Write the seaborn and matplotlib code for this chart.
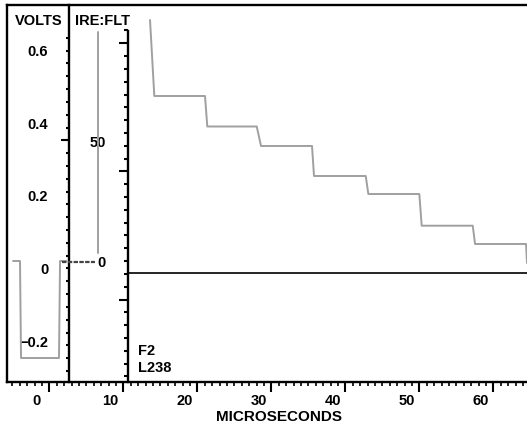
import numpy as np
import matplotlib
matplotlib.use('Agg')
import matplotlib.pyplot as plt
import matplotlib.ticker as mticker
import matplotlib.transforms as mtransforms
import seaborn as sns

# Eje de tiempo (microsegundos)
time_ticks = [0, 10, 20, 30, 40, 50, 60]
time_labels = ['0', '10', '20', '30', '40', '50', '60']

# Escalas verticales
volt_ticks = [-0.2, 0, 0.2, 0.4, 0.6]
volt_labels = ['\u22120.2', '0', '0.2', '0.4', '0.6']
ire_ticks = [0, 50]
ire_labels = ['0', '50']

# Traza: pulso de sincronismo
sync_t = [-4.9, -3.96, -3.82, 1.31, 1.45, 2.3]
sync_v = [0.0207, 0.0207, -0.2466, -0.2466, 0.0207, 0.0207]

# Traza: nivel de borrado (oscuro) y subida
blank_t = [1.72, 6.18]
blank_v = [0.018, 0.018]
rise_t = [6.54, 6.54]
rise_v = [0.043, 0.6515]

# Traza: escalera
stairs_t = [13.61, 14.19, 21.04, 21.35, 28.03, 28.61, 35.5, 35.77,
            42.76, 43.11, 50.0, 50.32, 57.22, 57.53, 64.42, 64.55]
stairs_v = [0.6846, 0.4752, 0.4752, 0.3912, 0.3912, 0.3375, 0.3375, 0.2548,
            0.2548, 0.2052, 0.2052, 0.1179, 0.1179, 0.0675, 0.0675, 0.0152]

# Reticula
x_lo, x_hi = -5.716, 64.55
y_lo, y_hi = -0.3127, 0.7259
volt_div = 2.66      # linea que separa VOLTS / IRE
main_div = 10.64     # linea que separa IRE / traza
zero_line = -0.0132
step = 0.0353        # 5 IRE
volt_minor = np.arange(-8, 19) * step
volt_long = [10 * step]
main_top = 0.6204
main_minor = main_top - np.arange(-1, 27) * step
main_long = main_top - np.array([0, 10, 20]) * step

sns.set_style('white')
plt.rcParams['font.family'] = ['Liberation Sans', 'DejaVu Sans']
plt.rcParams['font.weight'] = 'bold'
plt.rcParams['text.color'] = 'black'
plt.rcParams['axes.labelcolor'] = 'black'
plt.rcParams['xtick.color'] = 'black'
plt.rcParams['ytick.color'] = 'black'

fig = plt.figure(figsize=(5.27, 4.28), dpi=100)
ax = fig.add_axes([7 / 527, 46 / 428, 520 / 527, 377 / 428])

trace = '#a0a0a0'
sns.lineplot(x=sync_t, y=sync_v, ax=ax, color=trace, lw=1.4, sort=False, estimator=None)
sns.lineplot(x=blank_t, y=blank_v, ax=ax, color='#444444', lw=1.6, sort=False,
             estimator=None, dashes=False)
ax.lines[-1].set_dashes((2, 0.6))
sns.lineplot(x=rise_t, y=rise_v, ax=ax, color=trace, lw=1.4, sort=False, estimator=None)
sns.lineplot(x=stairs_t, y=stairs_v, ax=ax, color=trace, lw=1.4, sort=False, estimator=None)
ax.hlines(zero_line, main_div, x_hi, color='black', lw=1.2)

ax.set_xlim(x_lo, x_hi)
ax.set_ylim(y_lo, y_hi)

for s in ['left', 'top', 'bottom']:
    ax.spines[s].set_linewidth(1.7)
    ax.spines[s].set_color('black')
ax.spines['right'].set_visible(False)

# eje x
ax.set_xticks(time_ticks, time_labels)
ax.xaxis.set_minor_locator(mticker.MultipleLocator(1))
ax.tick_params(axis='x', which='major', bottom=True, direction='out', length=7,
               width=1.5, pad=1.5, labelsize=10.5, colors='black')
ax.tick_params(axis='x', which='minor', bottom=True, direction='out', length=3, width=1.2)
ax.tick_params(axis='y', left=False, labelleft=False)
offset = mtransforms.ScaledTranslation(-12.7 / 100, 0, fig.dpi_scale_trans)
for lab in ax.get_xticklabels():
    lab.set_transform(lab.get_transform() + offset)
ax.set_xlabel('MICROSECONDS', fontsize=11, fontweight='bold', color='black')
ax.xaxis.set_label_coords(0.5225, -0.074)

# escala VOLTS
sec_volts = ax.secondary_yaxis(volt_div, transform=ax.transData)
sec_volts.set_alignment('left')
sec_volts.set_ticks(volt_ticks, labels=volt_labels)
sec_volts.set_ticks(volt_minor, minor=True)
sec_volts.yaxis.remove_overlapping_locs = False
sec_volts.tick_params(axis='y', which='major', left=True, length=0, pad=15,
                      labelsize=10.5, colors='black')
sec_volts.tick_params(axis='y', which='minor', left=True, length=2.2, width=1.5,
                      direction='out', colors='black')
sec_volts.spines['left'].set_linewidth(1.7)
sec_volts.spines['left'].set_color('black')

sec_volts_long = ax.secondary_yaxis(volt_div, transform=ax.transData)
sec_volts_long.set_alignment('left')
sec_volts_long.set_ticks(volt_long, labels=[''])
sec_volts_long.tick_params(axis='y', left=True, length=5.5, width=1.5, colors='black')
sec_volts_long.spines['left'].set_visible(False)

# reticula de la traza
sec_main = ax.secondary_yaxis(main_div, transform=ax.transData)
sec_main.set_alignment('left')
sec_main.set_ticks(main_long, labels=['', '', ''])
sec_main.set_ticks(main_minor, minor=True)
sec_main.tick_params(axis='y', which='major', left=True, length=6.5, width=1.5, colors='black')
sec_main.tick_params(axis='y', which='minor', left=True, length=3, width=1.5, colors='black')
sec_main.spines['left'].set_linewidth(1.7)
sec_main.spines['left'].set_color('black')
sec_main.spines['left'].set_bounds(y_lo, 0.654)

# escala IRE
sec_ire = ax.secondary_yaxis(main_div, transform=ax.transData,
                             functions=(lambda v: (v - 0.0179) * 50 / 0.3306,
                                        lambda i: i * 0.3306 / 50 + 0.0179))
sec_ire.set_alignment('left')
sec_ire.set_ticks(ire_ticks, labels=ire_labels)
sec_ire.tick_params(axis='y', left=True, length=0, pad=16, labelsize=10.5, colors='black')
sec_ire.spines['left'].set_visible(False)

# textos
ax.text(0.0602, 0.9576, 'VOLTS', transform=ax.transAxes, ha='center', va='center',
        fontsize=10.5, fontweight='bold', color='black')
ax.text(0.1846, 0.9576, 'IRE:FLT', transform=ax.transAxes, ha='center', va='center',
        fontsize=10.5, fontweight='bold', color='black')
ax.text(0.2525, 0.082, 'F2', transform=ax.transAxes, ha='left', va='center',
        fontsize=10.5, fontweight='bold', color='black')
ax.text(0.2525, 0.038, 'L238', transform=ax.transAxes, ha='left', va='center',
        fontsize=10.5, fontweight='bold', color='black')

fig.savefig('out.png', dpi=100)
